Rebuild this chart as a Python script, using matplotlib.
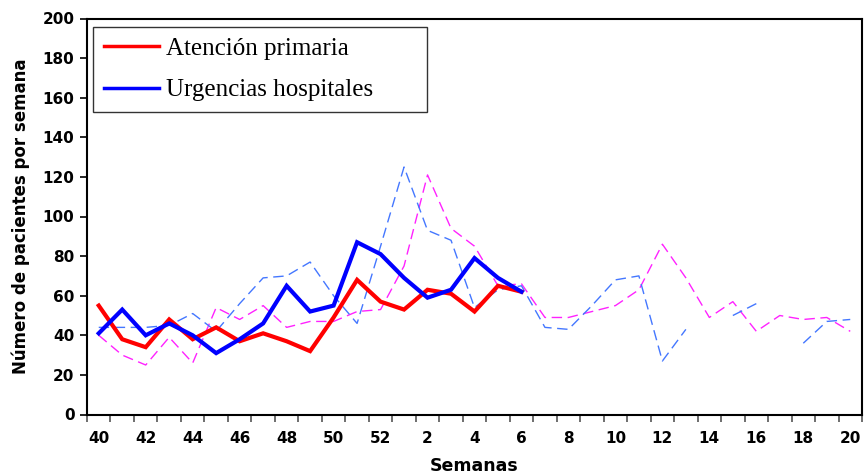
import numpy as np
import matplotlib
matplotlib.use("Agg")
import matplotlib.pyplot as plt
from matplotlib.ticker import FixedLocator, NullFormatter

nan = np.nan
weeks = list(range(40, 53)) + list(range(1, 21))
tick_labels = [str(w) if w % 2 == 0 else "" for w in weeks]

atencion = [55, 38, 34, 48, 38, 44, 37, 41, 37, 32, 49, 68, 57, 53, 63, 61, 52, 65, 62]
urgencias = [41, 53, 40, 46, 40, 31, 38, 46, 65, 52, 55, 87, 81, 69, 59, 63, 79, 69, 62]
prev_ap = [40, 30, 25, 39, 26, 54, 48, 55, 44, 47, 47, 52, 53, 75, 121, 94, 85, 65, 66,
           49, 49, 52, 55, 63, 86, 69, 49, 57, 42, 50, 48, 49, 42]
prev_urg = [44, 44, 44, 45, 51, 42, 56, 69, 70, 77, 60, 46, 85, 125, 93, 88, 54, 63, 65,
            44, 43, 55, 68, 70, 27, 43, nan, 50, 56, nan, 36, 47, 48]

x_all = np.arange(len(weeks))
x_cur = np.arange(len(atencion))

fig = plt.figure(figsize=(8.64, 4.75), dpi=100)
ax = fig.add_axes([87/864, 1 - 414.5/475, (862 - 87)/864, (414.5 - 18.5)/475])

dash = (0, (7.5, 4))
ax.plot(x_all, prev_ap, color="#FF22FF", lw=1.0, linestyle=dash)
ax.plot(x_all, prev_urg, color="#4477FF", lw=1.0, linestyle=dash)
l1, = ax.plot(x_cur, atencion, color="#FF0000", lw=3.0, solid_joinstyle="miter")
l2, = ax.plot(x_cur, urgencias, color="#0000FF", lw=3.0, solid_joinstyle="miter")

ax.set_xlim(-0.5, len(weeks) - 0.5)
ax.set_ylim(0, 200)
ax.set_yticks(np.arange(0, 201, 20))

ax.xaxis.set_major_locator(FixedLocator(x_all[::2]))
ax.set_xticklabels(tick_labels[::2])
ax.xaxis.set_minor_locator(FixedLocator(np.arange(-0.5, len(weeks), 1.0)))
ax.xaxis.set_minor_formatter(NullFormatter())
ax.tick_params(axis="x", which="major", length=0, pad=12)
ax.tick_params(axis="x", which="minor", length=5, width=1.2, direction="out", color="#555555")
ax.tick_params(axis="y", length=5, width=1.2, direction="out", pad=4)

for lab in ax.get_xticklabels() + ax.get_yticklabels():
    lab.set_fontsize(11)
    lab.set_fontweight("bold")
    lab.set_family("DejaVu Sans")

for sp in ax.spines.values():
    sp.set_linewidth(1.5)
    sp.set_color("black")

ax.set_ylabel("Número de pacientes por semana", fontsize=12, fontweight="bold",
              family="DejaVu Sans", labelpad=9)
ax.set_xlabel("Semanas", fontsize=12.5, fontweight="bold", family="DejaVu Sans", labelpad=8)

leg = ax.legend([l1, l2], ["Atención primaria", "Urgencias hospitales"],
                loc="upper left", bbox_to_anchor=(0.008, 0.978, 0.431, 0.0), mode="expand",
                borderaxespad=0,
                prop={"family": "Liberation Serif", "size": 18}, handlelength=2.2,
                handletextpad=0.3, labelspacing=0.75, borderpad=0.42, fancybox=False,
                frameon=True)
leg.get_frame().set_edgecolor("black")
leg.get_frame().set_linewidth(1.0)
for h in leg.get_lines():
    h.set_linewidth(2.5)

fig.savefig("out.png", dpi=100)
